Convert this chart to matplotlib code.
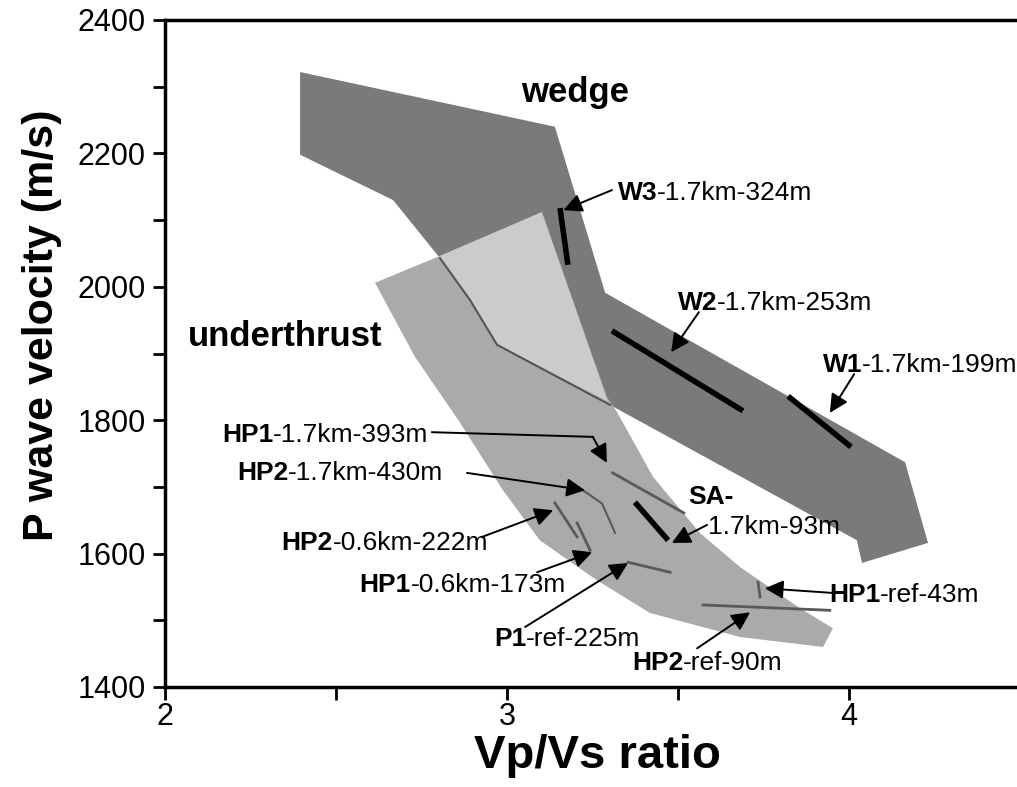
import matplotlib.pyplot as plt
from matplotlib.ticker import MultipleLocator

plt.rcParams['font.family'] = ['Liberation Sans', 'DejaVu Sans']

# outline of the wedge velocity field
wedge_x = [2.395, 3.140, 3.287, 4.164, 4.231, 4.038, 4.023, 3.301, 2.971, 2.892, 2.804, 2.667, 2.395]
wedge_y = [2322, 2240, 1991, 1737, 1616, 1586, 1620, 1823, 1913, 1980, 2043, 2130, 2198]

# outline of the underthrust velocity field
under_x = [2.614, 2.798, 3.102, 3.292, 3.322, 3.427, 3.564, 3.681, 3.857, 3.953, 3.924,
           3.681, 3.418, 3.263, 3.096, 2.988, 2.863, 2.731]
under_y = [2006, 2045, 2112, 1835, 1812, 1715, 1631, 1580, 1518, 1488, 1460,
           1475, 1511, 1560, 1620, 1695, 1796, 1895]

# part of the underthrust lying over the wedge
overlap_x = [2.798, 3.102, 3.295, 2.971, 2.892]
overlap_y = [2045, 2112, 1828, 1913, 1980]

# lower wedge boundary seen through the underthrust
edge_x = [2.804, 2.892, 2.971, 3.301]
edge_y = [2043, 1980, 1913, 1823]

# measured trends: (x0, x1), (y0, y1)
thick = {
    'W3': ((3.155, 3.178), (2118, 2033)),
    'W2': ((3.307, 3.690), (1934, 1814)),
    'W1': ((3.822, 4.006), (1836, 1760)),
    'SA': ((3.374, 3.471), (1677, 1620)),
}
thin = {
    'HP1-1.7': ((3.309, 3.517), (1721, 1661)),
    'HP2-0.6': ((3.140, 3.205), (1676, 1625)),
    'HP1-0.6': ((3.205, 3.243), (1646, 1605)),
    'P1-ref': ((3.354, 3.477), (1587, 1572)),
    'HP1-ref': ((3.734, 3.740), (1557, 1535)),
    'HP2-ref': ((3.573, 3.944), (1523, 1515)),
}
hp2_curve_x = [3.222, 3.278, 3.316]
hp2_curve_y = [1695, 1675, 1631]

# labels: bold part, rest, split point, arrow tail, arrow head
labels = [
    ('W3', '-1.7km-324m', (3.439, 2145), (3.307, 2145), (3.165, 2115)),
    ('W2', '-1.7km-253m', (3.614, 1980), (3.561, 1962), (3.480, 1902)),
    ('W1', '-1.7km-199m', (4.038, 1887), (4.015, 1869), (3.944, 1811)),
    ('HP1', '-1.7km-393m', (2.316, 1782), (3.251, 1775), (3.292, 1736)),
    ('HP2', '-1.7km-430m', (2.360, 1725), (2.883, 1721), (3.228, 1695)),
    ('HP2', '-0.6km-222m', (2.491, 1620), (2.927, 1625), (3.135, 1665)),
    ('HP1', '-0.6km-173m', (2.719, 1556), (3.088, 1572), (3.249, 1602)),
    ('P1', '-ref-225m', (3.056, 1475), (3.053, 1490), (3.354, 1586)),
    ('HP1', '-ref-43m', (4.091, 1542), (3.953, 1541), (3.754, 1548)),
    ('HP2', '-ref-90m', (3.515, 1439), (3.556, 1458), (3.711, 1512)),
]

fig = plt.figure(figsize=(10.17, 7.87), dpi=100)
ax = fig.add_axes([165 / 1017, 100 / 787, 855 / 1017, 667 / 787])

ax.fill(wedge_x, wedge_y, color='#7a7a7a', lw=0)
ax.fill(under_x, under_y, color='#aaaaaa', lw=0)
ax.fill(overlap_x, overlap_y, color='#cbcbcb', lw=0)
ax.plot(edge_x, edge_y, color='#555555', lw=1.5)

for xs, ys in thick.values():
    ax.plot(xs, ys, color='black', lw=4, solid_capstyle='butt')
for xs, ys in thin.values():
    ax.plot(xs, ys, color='#5a5a5a', lw=2)
ax.plot(hp2_curve_x, hp2_curve_y, color='#5a5a5a', lw=1.5)

arrow = dict(arrowstyle='-|>', mutation_scale=28, lw=1.4, color='black',
             shrinkA=0, shrinkB=0)
fs = 19
for bold, rest, (tx, ty), tail, head in labels:
    ax.text(tx, ty, bold, ha='right', va='center_baseline', fontsize=fs, weight='bold')
    ax.text(tx, ty, rest, ha='left', va='center_baseline', fontsize=fs)
    ax.annotate('', xy=head, xytext=tail, arrowprops=arrow)

# the HP1-1.7km leader runs across before bending down
ax.plot([2.781, 3.251], [1782, 1775], color='black', lw=1.4)

ax.text(3.529, 1688, 'SA-', ha='left', va='center_baseline', fontsize=fs, weight='bold')
ax.text(3.588, 1643, '1.7km-93m', ha='left', va='center_baseline', fontsize=fs)
ax.annotate('', xy=(3.482, 1616), xytext=(3.585, 1643), arrowprops=arrow)

ax.text(3.199, 2292, 'wedge', ha='center', va='center', fontsize=25, weight='bold')
ax.text(2.351, 1926, 'underthrust', ha='center', va='center', fontsize=25, weight='bold')

ax.set_xlim(2, 4.5)
ax.set_ylim(1400, 2400)
ax.xaxis.set_major_locator(MultipleLocator(1))
ax.xaxis.set_minor_locator(MultipleLocator(0.5))
ax.yaxis.set_major_locator(MultipleLocator(200))
ax.yaxis.set_minor_locator(MultipleLocator(100))
ax.tick_params(which='both', direction='out', length=9, width=2, labelsize=22)
ax.tick_params(axis='x', pad=2)
ax.tick_params(axis='y', pad=5)
ax.spines['right'].set_visible(False)
for s in ['left', 'bottom', 'top']:
    ax.spines[s].set_linewidth(2.5)

ax.set_xlabel('Vp/Vs ratio', fontsize=34, weight='bold')
ax.xaxis.set_label_coords((597 - 165) / 855, (687 - 734) / 667)
ax.set_ylabel('P wave velocity (m/s)', fontsize=31, weight='bold')
ax.yaxis.set_label_coords((62 - 165) / 855, (687 - 325) / 667)

fig.savefig('out.png', dpi=100)
